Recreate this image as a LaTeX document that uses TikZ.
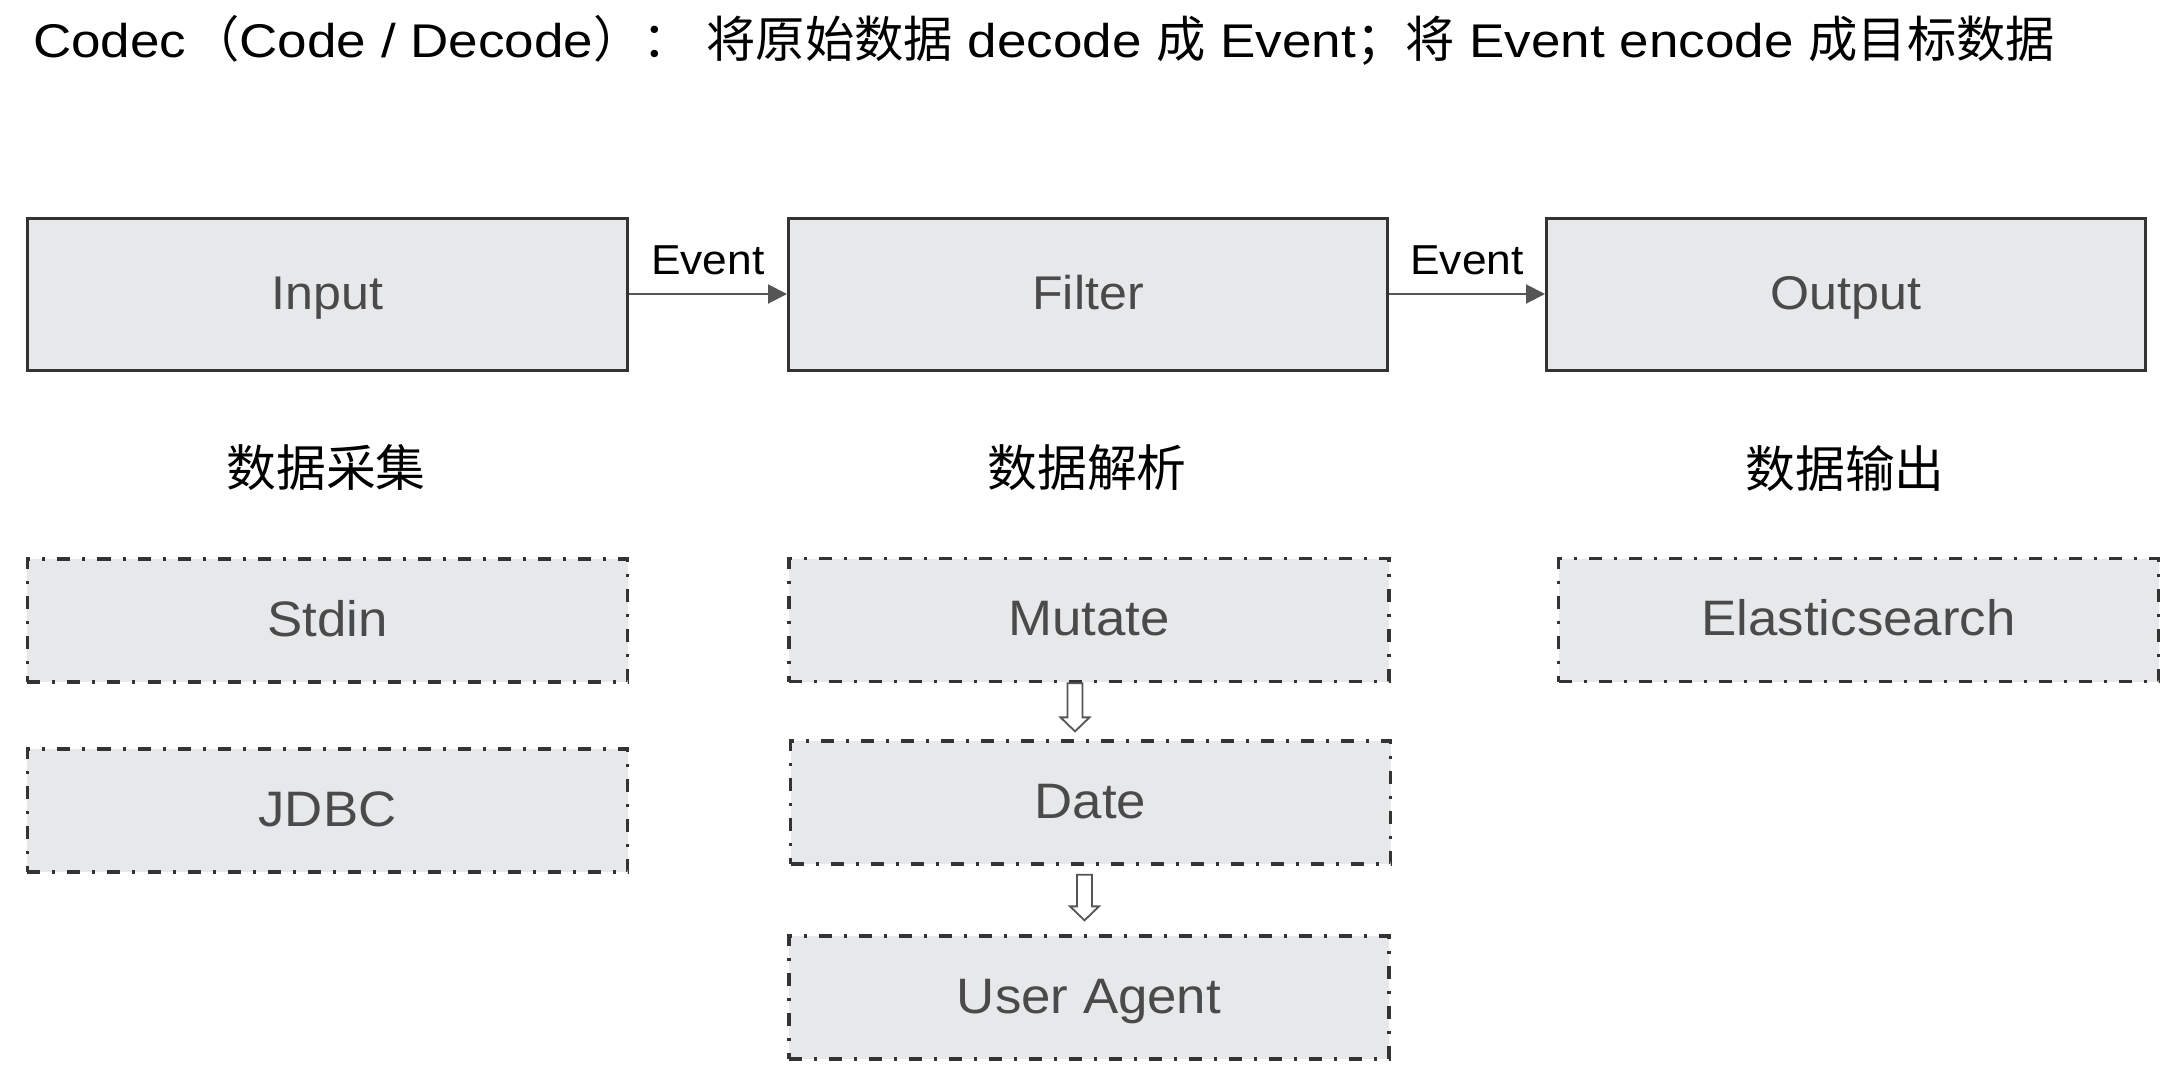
\documentclass[tikz,border=0pt]{standalone}
\usepackage{fontspec}
\setmainfont{Liberation Sans}[FakeStretch=1.06]
\newfontfamily\titlefont{Liberation Sans}[FakeStretch=1.12]
\newfontfamily\cjk{Noto Sans CJK SC}
\usetikzlibrary{arrows.meta,calc}
\definecolor{boxfill}{HTML}{E6E8EA}
\definecolor{boxline}{HTML}{333333}
\definecolor{boxtext}{HTML}{4A4A4A}
\definecolor{arrowgray}{HTML}{555555}
\newcommand\tcjk[1]{{\fontsize{49.5}{56}\selectfont\cjk #1}}
\newcommand\hollowarr[2]{%
  \draw[hollowarrow] ($(#1)+(-7.5,0)$) -- ($(#2)+(-7.5,-14)$) -- ($(#2)+(-14.5,-14)$) -- (#2)
    -- ($(#2)+(14.5,-14)$) -- ($(#2)+(7.5,-14)$) -- ($(#1)+(7.5,0)$) -- cycle;}
\begin{document}
\begin{tikzpicture}[x=1bp,y=-1bp,
  mainbox/.style={draw=boxline, line width=3bp, fill=boxfill, minimum width=599bp,
    minimum height=152bp, inner sep=0pt, text=boxtext, font=\fontsize{47.5}{56}\selectfont,
    text height=34bp, text depth=4bp},
  subbox/.style={draw=boxline, line width=3.3bp, dash pattern=on 13bp off 12bp on 3bp off 12bp,
    fill=boxfill, minimum width=600bp, minimum height=123bp, inner sep=0pt, text=boxtext,
    font=\fontsize{50}{58}\selectfont, text height=36bp, text depth=5bp},
  stagelabel/.style={inner sep=0pt, font=\fontsize{50}{58}\selectfont\cjk},
  flow/.style={draw=arrowgray, line width=2bp, -{Triangle[length=19bp,width=19bp]}},
  evlabel/.style={anchor=base, inner sep=0pt, yshift=19.5bp, font=\fontsize{42}{48}\selectfont},
  hollowarrow/.style={draw=arrowgray, line width=1.8bp, fill=white, line join=miter}]
\useasboundingbox (0,0) rectangle (2169,1074);
\fill[white] (0,0) rectangle (2169,1074);

\node[anchor=base west, inner sep=0pt, font=\fontsize{47.5}{56}\titlefont] (title) at (33,57)
  {Codec\hspace{4bp}\tcjk{（}Code / Decode\tcjk{）：} \tcjk{将原始数据} decode \tcjk{成} Event\tcjk{；将} Event encode \tcjk{成目标数据}};

\node[mainbox] (input)  at (327.5,294) {Input};
\node[mainbox] (filter) at (1088,294) {Filter};
\node[mainbox] (output) at (1846,294) {Output};

\draw[flow] (input.east) -- node[evlabel] (ev1) {Event} (filter.west);
\draw[flow] (filter.east) -- node[evlabel] (ev2) {Event} (output.west);

\node[stagelabel] (lab1) at (326,468) {数据采集};
\node[stagelabel] (lab2) at (1087,468) {数据解析};
\node[stagelabel] (lab3) at (1845,469) {数据输出};

\node[subbox] (stdin)   at (327.5,620.5) {Stdin};
\node[subbox] (jdbc)    at (327.5,810.5) {JDBC};
\node[subbox] (mutate)  at (1089,620) {Mutate};
\node[subbox] (date)    at (1090.5,802.5) {Date};
\node[subbox] (ua)      at (1089,997.5) {User Agent};
\node[subbox] (elastic) at (1858.5,620) {Elasticsearch};

\coordinate (a1t) at ($(mutate.south)+(-14,0)$);
\coordinate (a1p) at ($(date.north)+(-15.5,-8)$);
\coordinate (a2t) at ($(date.south)+(-6,9)$);
\coordinate (a2p) at ($(ua.north)+(-4.5,-14)$);
\hollowarr{a1t}{a1p}
\hollowarr{a2t}{a2p}
\end{tikzpicture}
\end{document}
